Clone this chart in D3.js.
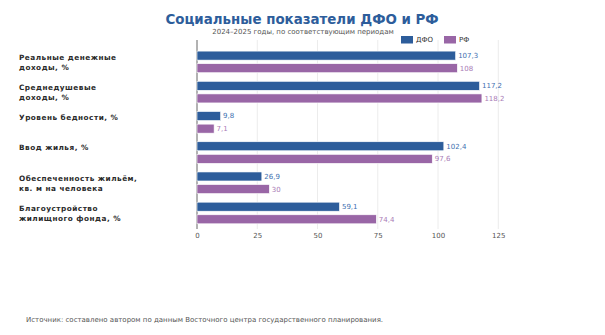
<!DOCTYPE html>
<html><head><meta charset="utf-8">
<script src="https://cdn.jsdelivr.net/npm/d3@7"></script>
<style>body{margin:0;background:#fff}svg{display:block;font-family:"DejaVu Sans",sans-serif}</style>
</head><body>
<svg id="c" width="605" height="335"></svg>
<script>
const categories = [
  ["Реальные денежные", "доходы, %"],
  ["Среднедушевые", "доходы, %"],
  ["Уровень бедности, %"],
  ["Ввод жилья, %"],
  ["Обеспеченность жильём,", "кв. м на человека"],
  ["Благоустройство", "жилищного фонда, %"]
];
const seriesNames = ["ДФО", "РФ"];
const dfo = [107.3, 117.2, 9.8, 102.4, 26.9, 59.1];
const rf = [108, 118.2, 7.1, 97.6, 30, 74.4];
const tickValues = [0, 25, 50, 75, 100, 125];
const colors = ["#2d5d9b", "#9966a6"];
const labelColors = ["#3e6fb0", "#a97bb6"];

const svg = d3.select("#c");
const x = d3.scaleLinear().domain([0, 125]).range([197, 498.3]);
const y = d3.scaleBand().domain(d3.range(categories.length)).range([46.8, 228.1]).paddingInner(0).paddingOuter(0);
const barH = 9, gap = 3.6;

// grid
svg.append("g").selectAll("line").data(tickValues.slice(1)).join("line")
  .attr("x1", d => x(d)).attr("x2", d => x(d)).attr("y1", 40).attr("y2", 229)
  .attr("stroke", "#ececec").attr("stroke-width", 1);

// axis
const ax = svg.append("g").attr("transform", "translate(0,229)")
  .call(d3.axisBottom(x).tickValues(tickValues).tickSize(0).tickPadding(4));
ax.select(".domain").remove();
ax.selectAll("text").attr("font-size", 7).attr("fill", "#555").attr("font-family", "DejaVu Sans");
svg.append("line").attr("x1", x(0)).attr("x2", x(0)).attr("y1", 40).attr("y2", 229)
  .attr("stroke", "#666").attr("stroke-width", 1);

const data = [dfo, rf];
data.forEach((vals, s) => {
  const g = svg.append("g");
  const by = i => y(i) + y.bandwidth() / 2 - barH - gap / 2 + s * (barH + gap);
  g.selectAll("rect").data(vals).join("rect")
    .attr("x", x(0)).attr("width", d => x(d) - x(0))
    .attr("y", (d, i) => by(i))
    .attr("height", barH).attr("fill", colors[s])
    .attr("stroke", "#fff").attr("stroke-width", 0.6);
  g.selectAll("text").data(vals).join("text")
    .attr("x", d => x(d) + 2.5)
    .attr("y", (d, i) => by(i) + barH / 2)
    .attr("dy", "0.35em").attr("font-size", 7).attr("fill", labelColors[s])
    .text(d => String(d).replace(".", ","));
});

// category labels
categories.forEach((lines, i) => {
  const t = svg.append("text").attr("x", 19).attr("font-size", 7.3).attr("font-weight", "bold")
    .attr("letter-spacing", 0.5).attr("fill", "#2a2a2a");
  const cy = y(i) + y.bandwidth() / 2;
  const lh = 10.2;
  lines.forEach((ln, k) => {
    t.append("tspan").attr("x", 19)
      .attr("y", cy - 4.8 + k * lh)
      .attr("dy", "0.35em").text(ln);
  });
});

// title
svg.append("text").attr("x", 302).attr("y", 19).attr("dy", "0.35em").attr("text-anchor", "middle")
  .attr("font-size", 13.4).attr("font-weight", "bold").attr("fill", "#2d5d9b")
  .text("Социальные показатели ДФО и РФ");
svg.append("text").attr("x", 303).attr("y", 31.7).attr("dy", "0.35em").attr("text-anchor", "middle")
  .attr("font-size", 7).attr("fill", "#555")
  .text("2024–2025 годы, по соответствующим периодам");

// legend
const lx = [401, 444];
seriesNames.forEach((n, s) => {
  svg.append("rect").attr("x", lx[s]).attr("y", 36).attr("width", 12).attr("height", 7.5).attr("fill", colors[s]);
  svg.append("text").attr("x", lx[s] + 15).attr("y", 39.5).attr("dy", "0.35em")
    .attr("font-size", 7).attr("fill", "#333").text(n);
});

// source
svg.append("text").attr("x", 26).attr("y", 320).attr("dy", "0.35em").attr("font-size", 7).attr("fill", "#555")
  .text("Источник: составлено автором по данным Восточного центра государственного планирования.");
</script>
</body></html>
